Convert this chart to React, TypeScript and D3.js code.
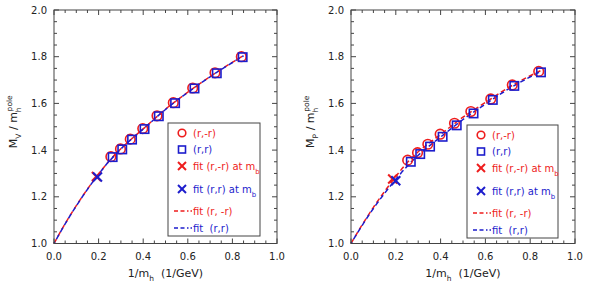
import React from "react";
import * as d3 from "d3";

// ---- Data: left panel (vector, M_V) ----
const vRRx = [0.255, 0.298, 0.342, 0.398, 0.462, 0.535, 0.622, 0.722, 0.840];
const vRRy = [1.372, 1.405, 1.447, 1.492, 1.547, 1.603, 1.666, 1.731, 1.800];
const vRrX = [0.263, 0.306, 0.350, 0.406, 0.470, 0.543, 0.630, 0.730, 0.846];
const vRrY = [1.370, 1.403, 1.445, 1.490, 1.545, 1.601, 1.664, 1.729, 1.798];
const vFitAtMb = [[0.190, 1.287], [0.195, 1.285]];
const vFitX = [0, 0.05, 0.1, 0.15, 0.2, 0.25, 0.3, 0.35, 0.4, 0.5, 0.6, 0.7, 0.85];
const vFitRed = [1, 1.085, 1.162, 1.233, 1.298, 1.356, 1.406, 1.450, 1.491, 1.575, 1.648, 1.715, 1.805];
const vFitBlue = [1, 1.084, 1.161, 1.232, 1.297, 1.355, 1.405, 1.449, 1.490, 1.574, 1.647, 1.714, 1.804];

// ---- Data: right panel (pseudoscalar, M_P) ----
const pRRx = [0.253, 0.297, 0.343, 0.398, 0.462, 0.535, 0.624, 0.720, 0.838];
const pRRy = [1.357, 1.389, 1.425, 1.468, 1.515, 1.565, 1.619, 1.679, 1.737];
const pRrX = [0.267, 0.309, 0.353, 0.409, 0.472, 0.547, 0.633, 0.729, 0.848];
const pRrY = [1.350, 1.383, 1.415, 1.457, 1.506, 1.557, 1.615, 1.675, 1.733];
const pFitAtMb = [[0.186, 1.276], [0.200, 1.269]];
const pFitX = [0, 0.05, 0.1, 0.15, 0.2, 0.25, 0.3, 0.35, 0.4, 0.5, 0.6, 0.7, 0.85];
const pFitRed = [1, 1.080, 1.155, 1.223, 1.287, 1.345, 1.393, 1.431, 1.467, 1.541, 1.604, 1.666, 1.742];
const pFitBlue = [1, 1.078, 1.150, 1.215, 1.275, 1.330, 1.378, 1.418, 1.456, 1.531, 1.597, 1.660, 1.738];

const xTicks = [0, 0.2, 0.4, 0.6, 0.8, 1.0];
const yTicks = [1.0, 1.2, 1.4, 1.6, 1.8, 2.0];

const RED = "#ee1c1c";
const BLUE = "#1c1ccc";
const FONT = "DejaVu Sans, Verdana, sans-serif";

type PanelProps = {
  x0: number; x1: number; y0: number; y1: number;
  sub: string;
  rrx: number[]; rry: number[]; rrX: number[]; rrY: number[];
  mb: number[][];
  fitX: number[]; fitRed: number[]; fitBlue: number[];
  legend: { x: number; y: number; w: number; h: number };
};

function Panel(p: PanelProps) {
  const x = d3.scaleLinear().domain([0, 1]).range([p.x0, p.x1]);
  const y = d3.scaleLinear().domain([1, 2]).range([p.y1, p.y0]);
  const line = d3.line<[number, number]>().x(d => x(d[0])).y(d => y(d[1])).curve(d3.curveMonotoneX);
  const redPts = p.fitX.map((v, i) => [v, p.fitRed[i]] as [number, number]);
  const bluePts = p.fitX.map((v, i) => [v, p.fitBlue[i]] as [number, number]);
  const minorX = d3.range(0, 1.0001, 0.05);
  const minorY = d3.range(1, 2.0001, 0.05);
  const isMajor = (v: number) => Math.abs(v * 5 - Math.round(v * 5)) < 1e-6;
  const axisColor = "#444";
  const L = p.legend;
  const rows = [L.y + 10, L.y + 26.5, L.y + 43, L.y + 66, L.y + 88, L.y + 105];
  const sx = L.x + 14;
  const tx = L.x + 25;
  const cross = (cx: number, cy: number, c: string, s = 4.5, w = 2) => (
    <g stroke={c} strokeWidth={w}>
      <line x1={cx - s} y1={cy - s} x2={cx + s} y2={cy + s} />
      <line x1={cx - s} y1={cy + s} x2={cx + s} y2={cy - s} />
    </g>
  );
  return (
    <g fontFamily={FONT}>
      {/* fits */}
      <path d={line(redPts) || ""} fill="none" stroke={RED} strokeWidth={1.5} strokeDasharray="5,3" />
      <path d={line(bluePts) || ""} fill="none" stroke={BLUE} strokeWidth={1.5} strokeDasharray="5,3" strokeDashoffset={3} />
      {/* circles */}
      {p.rrx.map((v, i) => (
        <circle key={"c" + i} cx={x(v)} cy={y(p.rry[i])} r={4.8} fill="none" stroke={RED} strokeWidth={1.6} />
      ))}
      {p.rrX.map((v, i) => (
        <rect key={"s" + i} x={x(v) - 4.2} y={y(p.rrY[i]) - 4.2} width={8.4} height={8.4} fill="none" stroke={BLUE} strokeWidth={1.6} />
      ))}
      {cross(x(p.mb[0][0]), y(p.mb[0][1]), RED)}
      {cross(x(p.mb[1][0]), y(p.mb[1][1]), BLUE)}
      {/* frame */}
      <rect x={p.x0} y={p.y0} width={p.x1 - p.x0} height={p.y1 - p.y0} fill="none" stroke={axisColor} strokeWidth={1} />
      {minorX.map((v, i) => {
        const len = isMajor(v) ? 5 : 3;
        return (
          <g key={"tx" + i} stroke={axisColor} strokeWidth={1}>
            <line x1={x(v)} x2={x(v)} y1={p.y1} y2={p.y1 - len} />
            <line x1={x(v)} x2={x(v)} y1={p.y0} y2={p.y0 + len} />
          </g>
        );
      })}
      {minorY.map((v, i) => {
        const len = isMajor(v) ? 5 : 3;
        return (
          <g key={"ty" + i} stroke={axisColor} strokeWidth={1}>
            <line y1={y(v)} y2={y(v)} x1={p.x0} x2={p.x0 + len} />
            <line y1={y(v)} y2={y(v)} x1={p.x1} x2={p.x1 - len} />
          </g>
        );
      })}
      {xTicks.map(v => (
        <text key={"xl" + v} x={x(v)} y={p.y1 + 16} fontSize={10} textAnchor="middle" fill="#222">{v.toFixed(1)}</text>
      ))}
      {yTicks.map(v => (
        <text key={"yl" + v} x={p.x0 - 7} y={y(v) + 3.5} fontSize={10} textAnchor="end" fill="#222">{v.toFixed(1)}</text>
      ))}
      {/* axis titles */}
      <text x={(p.x0 + p.x1) / 2} y={p.y1 + 33} fontSize={11} textAnchor="middle" fill="#222">
        1/m<tspan fontSize={7.5} dy={4}>h</tspan><tspan dy={-4} style={{ whiteSpace: "pre" }}>{"  (1/GeV)"}</tspan>
      </text>
      <text transform={`translate(${p.x0 - 37},${(p.y0 + p.y1) / 2 - 5}) rotate(-90)`} fontSize={11} textAnchor="middle" fill="#222">
        M<tspan fontSize={7.5} dy={4}>{p.sub}</tspan><tspan dy={-4}>{" / m"}</tspan><tspan fontSize={7.5} dy={4}>h</tspan><tspan fontSize={7.5} dx={-4} dy={-9}>pole</tspan>
      </text>
      {/* legend */}
      <rect x={L.x} y={L.y} width={L.w} height={L.h} fill="white" stroke="#444" strokeWidth={1} />
      <circle cx={sx} cy={rows[0]} r={3.8} fill="none" stroke={RED} strokeWidth={1.6} />
      <text x={tx} y={rows[0] + 3.5} fontSize={10} fill={RED}>(r,-r)</text>
      <rect x={sx - 3.5} y={rows[1] - 3.5} width={7} height={7} fill="none" stroke={BLUE} strokeWidth={1.6} />
      <text x={tx} y={rows[1] + 3.5} fontSize={10} fill={BLUE}>(r,r)</text>
      {cross(sx, rows[2], RED, 4)}
      <text x={tx} y={rows[2] + 3.5} fontSize={10} fill={RED}>fit (r,-r) at m<tspan fontSize={7} dy={4}>b</tspan></text>
      {cross(sx, rows[3], BLUE, 4)}
      <text x={tx} y={rows[3] + 3.5} fontSize={10} fill={BLUE}>fit (r,r) at m<tspan fontSize={7} dy={4}>b</tspan></text>
      <line x1={L.x + 6} x2={L.x + 24} y1={rows[4]} y2={rows[4]} stroke={RED} strokeWidth={1.5} strokeDasharray="4,2.5,4,2.5,1.5,2" />
      <text x={tx} y={rows[4] + 3.5} fontSize={10} fill={RED}>fit (r, -r)</text>
      <line x1={L.x + 6} x2={L.x + 24} y1={rows[5]} y2={rows[5]} stroke={BLUE} strokeWidth={1.5} strokeDasharray="4,2.5,4,2.5,1.5,2" />
      <text x={tx} y={rows[5] + 3.5} fontSize={10} fill={BLUE} style={{ whiteSpace: "pre" }}>{"fit  (r,r)"}</text>
    </g>
  );
}

export default function App() {
  return (
    <svg width={589} height={292} style={{ position: "absolute", left: 0, top: 0, background: "white" }}>
      <Panel x0={54} x1={277} y0={10} y1={243.5} sub="V"
        rrx={vRRx} rry={vRRy} rrX={vRrX} rrY={vRrY} mb={vFitAtMb}
        fitX={vFitX} fitRed={vFitRed} fitBlue={vFitBlue}
        legend={{ x: 168, y: 123, w: 92, h: 113 }} />
      <Panel x0={351} x1={575} y0={10} y1={243.5} sub="P"
        rrx={pRRx} rry={pRRy} rrX={pRrX} rrY={pRrY} mb={pFitAtMb}
        fitX={pFitX} fitRed={pFitRed} fitBlue={pFitBlue}
        legend={{ x: 467, y: 125, w: 91, h: 113 }} />
    </svg>
  );
}
